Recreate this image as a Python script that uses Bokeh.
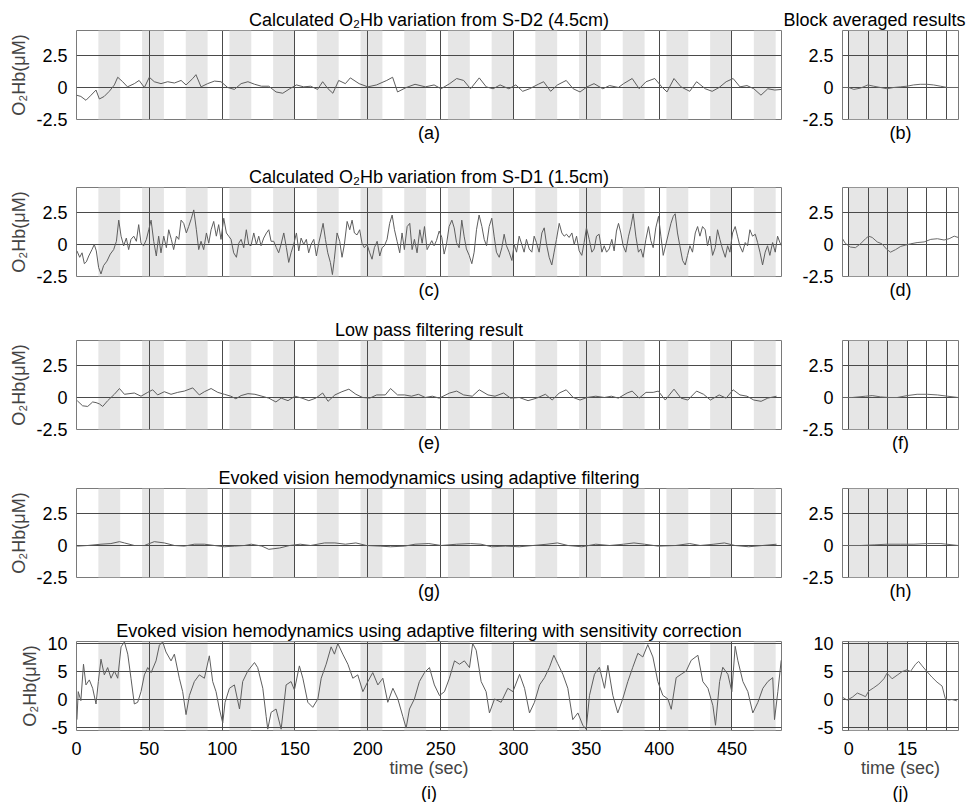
from bokeh.plotting import figure
from bokeh.layouts import column, row
from bokeh.models import Title, BoxAnnotation, Grid, FixedTicker, Range1d
from bokeh.embed import file_html
from bokeh.resources import INLINE

FONT = "Liberation Sans"
FS = "18px"

# ---------------- stimulation design ----------------
stim_onsets = [15, 45, 75, 105, 135, 165, 195, 225, 255, 285, 315, 345, 375, 405, 435, 465]
stim_len = 15
block_stim = [0, 15]

time_ticks = [0, 50, 100, 150, 200, 250, 300, 350, 400, 450]
time_grid = [50, 100, 150, 200, 250, 300, 350, 400, 450]
block_ticks = [0, 15]
block_grid = [0, 5, 10, 15, 20, 25]
small_ticks = [-2.5, 0, 2.5]
small_grid = [0, 2.5]
big_ticks = [-5, 0, 5, 10]
big_grid = [-5, 0, 5, 10]

titles = [
    "Calculated O\u2082Hb variation from S-D2 (4.5cm)",
    "Calculated O\u2082Hb variation from S-D1 (1.5cm)",
    "Low pass filtering result",
    "Evoked vision hemodynamics using adaptive filtering",
    "Evoked vision hemodynamics using adaptive filtering with sensitivity correction",
]
block_title = "Block averaged results"
main_labels = ["(a)", "(c)", "(e)", "(g)", "(i)"]
block_labels = ["(b)", "(d)", "(f)", "(h)", "(j)"]

# ---------------- time series (time s, O2Hb uM) ----------------
series_a = [(0, -0.6), (3, -0.7), (6.5, -1.0), (10, -0.6), (13.4, -0.2), (15.7, -0.9), (19, -0.7),
            (22.5, -0.3), (26, 0.2), (28.3, 0.8), (31.7, 0.45), (35, 0.05), (39.7, 0.3), (43, 0.55),
            (46.6, 0), (50, 0.8), (53.4, 0.45), (58, 0.3), (62.6, 0.45), (67.2, 0.35), (71.8, 0.55),
            (75.2, 0.2), (79.8, 0.7), (82, 1.0), (85.5, 0.05), (90, 0.3), (94.7, 0.5), (99.2, 0.45),
            (103.8, 0), (108.4, -0.15), (113, 0.3), (117.7, 0.45), (122.3, 0.25), (127, 0.1),
            (132, 0.1), (137, -0.35), (141.6, -0.45), (146.4, -0.1), (151, 0.2), (156, 0.05),
            (160.7, 0.1), (165.5, -0.15), (169, 0.45), (172.7, -0.1), (176, -0.45), (180, 0.55),
            (184.6, 0.3), (188, 0.75), (194, 0.3), (200, 0.05), (206, 0.2), (213, 0.55), (217, 0.8),
            (220.4, -0.35), (226.4, 0), (232.4, 0.25), (239.5, 0.05), (245.5, 0.2), (250.3, -0.1),
            (256.2, 0.3), (261, 0.7), (265.8, 0.55), (270.5, -0.1), (276.5, 0.75), (281.3, 0.05),
            (286, -0.1), (290.8, 0.2), (296.8, -0.1), (301.6, 0.2), (306.3, -0.3), (311, -0.1),
            (317, 0.25), (320.7, 0.45), (325.5, -0.3), (330.2, 0.2), (336.2, 0.55), (341, -0.1),
            (345.7, -0.35), (350.5, 0.05), (355.3, 0.3), (361.3, -0.1), (366, 0.15), (372, 0),
            (375.6, 0.3), (381.5, 0.7), (386.3, -0.1), (391, 0.45), (397, 0.7), (401.8, 0.05),
            (405.4, -0.35), (410.2, 0.7), (415, 0.05), (421, -0.3), (425.7, 0.45), (431.7, -0.1),
            (436.4, -0.3), (441.2, 0), (446, 0.45), (450.8, 0.7), (455.5, 0.05), (460.3, 0.15),
            (465, -0.1), (469.9, -0.6), (474.6, -0.1), (479.4, -0.2), (484, -0.15)]

series_c = [(0.3, -0.5), (2.2, -1.0), (3.8, -0.65), (5.4, -1.5), (6.8, -1.35), (8.4, -0.9),
            (10.6, -0.4), (12.2, 0), (13.6, -0.5), (15.2, -1.8), (16.8, -2.3), (18.6, -1.65),
            (20.9, -1.3), (23.2, -0.75), (25.5, -0.4), (27.4, 0.25), (29.0, 1.9), (30.6, 0.65),
            (32.4, -0.1), (34.2, 0.5), (35.8, -0.4), (37.4, 0.4), (39.3, 0.65), (41.1, 0.25),
            (42.7, 1.55), (44.3, 0.1), (46.1, -0.1), (48.0, 0.4), (49.6, 1.15), (51.2, 1.9),
            (53.0, 0.25), (54.8, -0.9), (56.4, 0.65), (58.0, -0.65), (59.9, 0.65), (61.7, -0.25),
            (63.3, 1.15), (65.1, 0.4), (66.7, -0.4), (68.6, 0.65), (70.2, 0.4), (71.8, 1.9),
            (73.6, 1.65), (75.4, 0.9), (77.0, 1.4), (78.9, 2.05), (80.5, 2.7), (82.3, 1.15),
            (83.9, -0.4), (85.5, 0.25), (87.3, -0.4), (89.2, 0.9), (90.8, 0.1), (92.4, 1.15),
            (94.2, 1.8), (96.0, 0.65), (97.6, 1.55), (99.2, 0.4), (101.1, 2.05), (102.9, 0.9),
            (104.5, 0.65), (106.1, 0.4), (107.9, -0.65), (109.8, -1.0), (111.4, 0.1), (113.0, 0.4),
            (114.8, -0.25), (116.6, 1.15), (118.2, 0), (119.8, -0.1), (121.7, 0.9), (123.5, 0),
            (125.1, 0.65), (126.7, -0.1), (128.5, 0.5), (130.4, 0.9), (132.0, 1.15), (133.6, 0.25),
            (135.4, 0.25), (137.2, -0.25), (138.8, -0.65), (140.4, 0), (142.3, 0.9), (144.1, -0.25),
            (145.7, -1.4), (147.3, -0.65), (149.1, 0), (151.0, 0.9), (152.6, -0.5), (154.2, 0.5),
            (156.0, 0), (157.8, 0.4), (159.4, -0.65), (161.0, 0), (162.9, 0.4), (164.7, -0.9),
            (166.3, 0.1), (167.9, 0.9), (169.3, 1.65), (170.9, 0.4), (172.5, -0.65), (174.3, -1.4),
            (175.7, -2.35), (177.0, -1.15), (178.9, 0.9), (180.7, 0.25), (182.3, -1.0), (183.9, 0),
            (185.8, 1.8), (187.6, 1.15), (189.2, 1.9), (190.8, 0.9), (192.6, 0.75), (194.4, 1.15),
            (196.0, 0.1), (197.6, -0.25), (199.5, 0), (201.3, -0.65), (202.9, -1.15), (204.5, -0.25),
            (206.4, 0.25), (208.2, -0.9), (209.8, -0.25), (211.4, -0.1), (213.2, 0.4), (215.0, 1.65),
            (216.7, 2.3), (218.3, 1.15), (220.1, 0.25), (221.9, -0.65), (223.5, 0.9), (225.1, -0.4),
            (227.0, 1.4), (228.8, 1.65), (230.4, -0.4), (232.0, 0.4), (233.8, -0.65), (235.7, 1.15),
            (237.3, 0.1), (238.9, 1.4), (240.7, -0.4), (243.9, 0.3), (245.5, -0.1), (247.1, 0.3),
            (249.0, 1.05), (250.8, 0.55), (252.4, -0.75), (254.0, 0), (255.8, 1.4), (257.7, 1.9),
            (259.3, 1.3), (260.9, 0.15), (262.7, -0.25), (264.5, 1.9), (266.1, 0.65), (267.7, -0.35),
            (269.6, -0.85), (271.4, -1.5), (273.0, -0.6), (274.6, 1.15), (276.4, 2.3), (278.3, 1.4),
            (279.9, 0.4), (281.5, -0.1), (283.3, 1.4), (285.1, 2.05), (286.7, 0.65), (288.3, -0.6),
            (290.2, -1.0), (292.0, -0.25), (293.6, 0.8), (295.2, -0.1), (297.0, -0.6), (298.9, -1.25),
            (300.5, 0), (302.1, -0.6), (303.9, 0.65), (305.7, 0), (307.3, -0.6), (308.9, 0.4),
            (310.8, -0.35), (312.6, -0.6), (314.2, 0.65), (315.8, 0.15), (317.6, -0.6), (319.5, 0.9),
            (321.1, 1.3), (322.7, 0), (324.5, -1.0), (326.3, -1.6), (327.9, -0.6), (329.5, 0.4),
            (331.4, 1.65), (333.2, 0.9), (334.8, 0.65), (336.4, 0.8), (338.2, 0.55), (340.1, 0.9),
            (341.7, 0), (343.3, 0.65), (345.1, -0.5), (346.9, -0.85), (348.5, 0.15), (350.1, 1.3),
            (352.0, 0.4), (353.8, -0.6), (355.4, -0.35), (357.0, 0.65), (358.8, 0.8), (360.7, -0.6),
            (362.3, -0.1), (363.9, -0.6), (365.7, -0.35), (367.5, 0.4), (369.1, -0.5), (370.7, 1.05),
            (372.1, 1.65), (373.7, 0.9), (375.3, -0.1), (377.1, -0.6), (379.0, 0.65), (380.6, 1.4),
            (382.2, 2.4), (384.0, 0.65), (385.8, -0.6), (387.4, -0.35), (389.0, -1.0), (390.9, 0.4),
            (392.7, 1.4), (394.3, 0.3), (395.9, -0.25), (397.7, 1.3), (399.6, 2.2), (401.2, 0.65),
            (402.8, -0.85), (404.6, 0), (406.5, 0.9), (408.1, 1.65), (409.7, 2.2), (411.0, 2.4),
            (412.6, 0.9), (414.2, -0.1), (416.1, -1.25), (417.9, -1.6), (419.5, -0.85), (421.1, -0.1),
            (422.9, -0.6), (424.8, 0.9), (426.4, 1.4), (428.0, 0.65), (429.8, 1.4), (431.6, 1.15),
            (433.2, -0.1), (434.8, 0.65), (436.7, -0.85), (438.5, -0.25), (440.1, 1.15), (441.7, 0.4),
            (443.5, -0.35), (445.4, -1.0), (447.0, -0.1), (448.6, -0.6), (450.4, 0.9), (452.2, 1.4),
            (453.8, 0.65), (455.4, -0.1), (457.3, -0.6), (459.1, 0.15), (460.7, -0.1), (462.3, 1.15),
            (464.1, 0.65), (466.0, 0.8), (467.6, 0.15), (469.2, -0.6), (471.0, -1.6), (472.8, -0.6),
            (474.4, -0.1), (476.0, -0.85), (477.9, 0.15), (479.7, -0.6), (481.3, 0.65), (482.9, 0.15),
            (484.0, -0.1)]

series_e = [(0.5, -0.25), (4.2, -0.65), (7.7, -0.7), (11.1, -0.35), (13.4, -0.4), (15.7, -0.5),
            (18, -0.7), (21.4, -0.25), (26, 0.25), (29.5, 0.7), (32.9, 0.25), (39.7, 0.35),
            (44.3, 0.1), (48.9, 0.4), (52.3, 0.6), (55.7, 0.2), (60.3, 0.45), (64.9, 0.25),
            (69.5, 0.4), (74, 0.5), (79.8, 0.75), (84.3, 0.2), (87.8, 0.45), (92.4, 0.7), (97, 0.4),
            (101.5, 0.25), (106, 0.1), (109.4, -0.1), (113, 0.15), (117.7, 0.3), (122.5, 0.25),
            (127.3, 0.1), (132, -0.05), (136.9, -0.35), (140.5, -0.05), (145.2, -0.25), (150, 0.1),
            (154.8, -0.05), (159.5, -0.25), (164.3, -0.05), (169, 0.35), (172.7, -0.3), (177.4, 0.2),
            (182.2, 0.45), (187, 0.65), (191.8, 0.25), (196.5, 0), (201.3, -0.05), (206.1, 0.2),
            (212, 0.2), (215.6, 0.7), (220.4, 0.2), (225.2, 0.2), (230, 0.1), (234.7, 0.25),
            (239.5, 0), (244.3, 0.1), (249, -0.05), (256.2, 0.35), (261, 0.5), (265.8, 0.2),
            (271.7, 0.1), (276.5, 0.6), (282.5, 0.2), (287.3, 0.1), (293.2, 0.35), (298, -0.05),
            (304, 0), (310, -0.25), (315.9, -0.05), (321.9, 0.25), (326.6, -0.2), (331.4, 0.35),
            (336.2, 0.6), (341, 0), (345.7, -0.2), (350.5, 0), (356.5, 0.1), (362.4, 0), (367.2, 0.1),
            (372, -0.05), (378, 0.35), (381.5, 0.5), (386.3, -0.05), (391, 0.4), (395.9, 0.4),
            (399.4, 0.5), (404.2, -0.2), (410.2, 0.65), (415, -0.05), (419.7, -0.2), (425.7, 0.5),
            (430.5, 0.25), (435.2, -0.2), (441.2, 0.2), (446, -0.05), (450.8, 0.6), (455.5, 0.2),
            (460.3, 0.1), (465, -0.2), (470, -0.3), (474.6, -0.05), (480.6, 0.1)]

series_g = [(0.5, -0.05), (7.7, 0), (16.8, 0.1), (23.6, 0.15), (29.5, 0.3), (32.9, 0.2), (39.7, 0),
            (46.6, 0), (53.4, 0.3), (60.3, 0.2), (67.2, 0), (74, -0.05), (80.9, 0.1), (87.8, 0.1),
            (94.7, 0), (101.5, -0.1), (108.4, -0.05), (115.3, 0), (120, 0.1), (127.3, -0.05),
            (132, -0.3), (139.3, -0.2), (146.4, 0), (153.6, 0.1), (160.7, 0), (170.3, 0.2),
            (177.4, 0.2), (184.6, 0.1), (191.8, 0.2), (199, 0), (208.5, -0.05), (215.6, -0.1),
            (225.2, -0.05), (232.4, 0.1), (241.9, 0.15), (250.3, 0), (261, 0.1), (270.5, 0.15),
            (277.7, 0.1), (284.9, -0.1), (294.4, -0.05), (304, -0.1), (313.5, 0), (323, 0.1),
            (330.2, 0.2), (337.4, 0), (346.9, -0.1), (356.5, 0.1), (366, 0), (375.6, 0.1),
            (382.7, 0.2), (389.9, 0.1), (399.4, -0.05), (411.4, 0), (421, 0.15), (428.1, 0),
            (437.6, 0.1), (444.8, 0.2), (452, 0), (461.5, -0.1), (471, 0), (480.6, 0.1)]

series_i = [(0.3, -3.6), (1.2, 1.4), (3, -0.2), (4.8, 6.3), (6.5, 2.6), (8.8, 3.5), (11.1, 2.0),
            (13.4, -0.8), (15, 3.2), (16.8, 7.2), (19.1, 4.4), (21.4, 5.7), (23.7, 3.8), (26, 5.1),
            (28.3, 3.8), (30.6, 9.4), (32.9, 10.3), (35.2, 8.1), (37.4, 3.8), (39.7, -0.8), (42, -0.5),
            (44.3, 1.4), (46.6, 4.4), (48.9, 5.7), (51.2, 4.8), (54.6, 6.9), (56.9, 9.7), (59.2, 10.3),
            (61.4, 8.5), (64.9, 6.9), (67.2, 8.1), (70.6, 3.8), (72.9, 1.4), (75.2, -2.7), (77.5, 0.7),
            (80.9, 3.2), (84.3, 4.4), (87.8, 3.8), (91.2, 7.8), (93.5, 3.2), (95.8, 1.4), (98.1, -1.7),
            (100.4, -4.2), (102, -0.5), (105, 2.0), (108.4, 2.6), (111.9, -1.7), (114.1, 3.2),
            (117.6, 5.1), (122.2, 6.6), (124.4, 5.7), (127.9, 2.0), (130.2, -3.0), (131.3, -5.3),
            (133.6, -2.3), (137, -1.7), (140.5, -5.3), (143.9, 2.6), (147.3, 3.2), (149.6, 1.7),
            (153, 6.0), (155.4, 3.8), (158.8, -0.5), (162.2, -1.4), (165.7, 0.1), (168, 3.8),
            (171.4, 6.3), (174.8, 9.4), (177.1, 8.1), (179.4, 10.0), (182.8, 8.1), (186.3, 6.3),
            (189.7, 3.8), (193.1, 4.4), (196.6, 1.4), (200, 3.2), (203.4, 4.8), (206.9, 2.6),
            (210.3, 3.8), (213.7, -0.5), (217.2, 2.0), (220.6, 0.1), (224, -3.0), (226.3, -5.1),
            (228.6, -1.7), (232, 0.1), (235.4, 3.2), (238.9, 4.8), (242.3, 5.7), (245.7, 2.6),
            (249.2, 0.7), (252.6, 1.4), (256, 3.8), (259.5, 6.9), (262.9, 6.3), (266.3, 6.9),
            (269.8, 5.7), (272, 10.0), (274.4, 8.8), (277.8, 3.2), (281.2, 1.4), (283.5, -2.4),
            (287, 0.1), (291.5, -0.5), (296.1, 2.0), (299.6, 1.4), (304.2, 4.5), (307.6, 2.0),
            (311, -2.4), (314.4, -0.5), (317.9, 2.6), (321.3, 3.9), (324.7, 5.75), (327.7, 7.9),
            (330.4, 6.4), (333.9, 4.5), (337.3, 2.0), (340.7, -3.6), (344.2, -2.4), (347.6, -4.6),
            (349.9, -5.3), (352.2, 0.75), (355.6, 4.5), (359, 5.75), (362.5, 2.0), (364.8, 6.1),
            (368.2, 0.75), (371.6, -2.4), (375, 0.1), (378.5, 3.2), (381.9, 5.75), (385.4, 8.25),
            (388.8, 7.6), (392.2, 9.8), (395.7, 7.6), (399.1, 3.2), (402.5, 0.75), (406, 0.1),
            (408.3, -1.75), (411.7, 3.9), (415.1, 4.5), (418.6, 5.1), (422, 7.0), (426.6, 7.9),
            (430, 3.2), (433.5, 2.0), (436.9, -1.1), (438.7, -4.6), (441.5, 3.2), (443.7, 5.75),
            (447.2, 4.5), (449.9, 1.4), (452.2, 9.5), (454, 7.0), (457.5, 3.2), (460.9, 1.4),
            (464.3, -2.4), (467.8, -0.5), (471.2, 2.0), (474.6, 3.2), (478, 3.9), (479.2, -3.6),
            (481.5, 1.4), (483.8, 7.0)]

# ---------------- block averages (time s, O2Hb uM) ----------------
block_b = [(-1.6, 0), (0, 0), (1.3, -0.15), (3, -0.05), (4.9, 0.2), (6.4, 0.1), (8.1, 0), (9.8, -0.1),
           (11.5, 0), (13.2, 0.05), (14.9, 0.1), (16.6, 0.2), (18.3, 0.25), (20, 0.25), (21.7, 0.2),
           (23.5, 0.1), (25.2, 0), (28, 0)]
block_d = [(-1.6, 0.45), (-0.9, 0.1), (0.4, -0.2), (1.7, -0.25), (3, 0.05), (4.3, 0.45), (5.1, 0.65),
           (6, 0.55), (7.3, 0.2), (8.5, 0.05), (9.8, -0.4), (10.7, -0.6), (12, -0.4), (13.3, -0.15),
           (14.5, -0.05), (15.8, 0.05), (17.5, 0.15), (19.3, 0.2), (21, 0.4), (22.7, 0.45),
           (24.4, 0.35), (25.7, 0.45), (27, 0.65), (28, 0.55)]
block_f = [(-1.6, 0), (0.9, 0), (4.3, 0.1), (6, 0.15), (8.1, 0.05), (10.3, 0), (12.4, 0), (15, 0.15),
           (17.5, 0.25), (20.1, 0.25), (22.7, 0.2), (25.3, 0.1), (28, 0)]
block_h = [(-1.6, 0), (3, 0), (6.5, 0.05), (9.8, 0.1), (13.3, 0.1), (16.7, 0.1), (20.1, 0.15),
           (23.6, 0.15), (28, 0)]
block_j = [(-1.6, 0.4), (-0.4, -0.1), (0.9, 0.4), (2.2, 1.15), (3.4, 0.8), (4.3, 0.5), (5.1, 1.5),
           (6.4, 2.1), (7.7, 2.75), (9, 3.7), (9.8, 4.7), (11.1, 3.7), (12.4, 4.35), (13.7, 5.0),
           (14.9, 5.3), (15.8, 5.0), (17.1, 6.3), (17.9, 6.8), (18.8, 6.0), (20, 5.0), (21.3, 4.0),
           (22.6, 3.1), (23.9, 2.4), (24.7, 0.2), (25.6, -0.1), (26.4, 0), (27.7, -0.25)]

main_series = [series_a, series_c, series_e, series_g, series_i]
block_series = [block_b, block_d, block_f, block_h, block_j]

small_range = (-2.5, 4.45)
big_range = (-5.54, 10.36)
main_xrange = (0, 484)
block_xrange = (-1.6, 28.1)

# layout (top border, bottom border) for each row
row_borders = [(30, 31), (37, 29), (35, 26), (33, 31), (33, 72)]

GRID_COLOR = "#4a4a4a"
BAND_COLOR = "#e6e6e6"


def tick_text(v):
    return ("%g" % v)


def make_fig(fw, xr, yr, top, bottom, left, right, has_xaxis, yticks, ygrid, xticks, xgrid):
    p = figure(frame_width=fw, frame_height=89, x_range=Range1d(*xr), y_range=Range1d(*yr),
               output_backend="svg", toolbar_location=None,
               x_axis_location="below" if has_xaxis else None,
               min_border_left=left, min_border_right=right,
               min_border_top=top, min_border_bottom=bottom,
               background_fill_color="white", border_fill_color="white",
               outline_line_color="#7a7a7a", outline_line_width=1)
    ax = p.yaxis[0]
    ax.ticker = FixedTicker(ticks=yticks)
    ax.major_label_overrides = {v: tick_text(v) for v in yticks}
    ax.axis_line_color = None
    ax.major_tick_line_color = None
    ax.minor_tick_line_color = None
    ax.major_label_text_font = FONT
    ax.major_label_text_font_size = FS
    ax.major_label_text_color = "black"
    ax.major_label_standoff = 3
    p.ygrid.ticker = FixedTicker(ticks=ygrid)
    p.ygrid.grid_line_color = GRID_COLOR
    p.ygrid.grid_line_width = 1
    if has_xaxis:
        xa = p.xaxis[0]
        xa.ticker = FixedTicker(ticks=xticks)
        xa.major_label_overrides = {v: tick_text(v) for v in xticks}
        xa.axis_line_color = None
        xa.major_tick_line_color = None
        xa.minor_tick_line_color = None
        xa.major_label_text_font = FONT
        xa.major_label_text_font_size = FS
        xa.major_label_text_color = "black"
        xa.major_label_standoff = 5
        xa.axis_label = "time (sec)"
        xa.axis_label_text_font = FONT
        xa.axis_label_text_font_size = FS
        xa.axis_label_text_font_style = "normal"
        xa.axis_label_standoff = 0
        p.xgrid.ticker = FixedTicker(ticks=xgrid)
        p.xgrid.grid_line_color = GRID_COLOR
    else:
        p.add_layout(Grid(dimension=0, ticker=FixedTicker(ticks=xgrid),
                          grid_line_color=GRID_COLOR, grid_line_width=1))
    p.title.text_font = FONT
    p.title.text_font_size = FS
    p.title.text_font_style = "normal"
    p.title.text_color = "black"
    p.title.standoff = 2
    return p


def add_label(p, text, offset, standoff):
    p.add_layout(Title(text=text, align="center", offset=offset, text_font=FONT,
                       text_font_size=FS, text_font_style="normal", text_color="black",
                       standoff=standoff), "below")


rows = []
for k in range(5):
    top, bottom = row_borders[k]
    last = (k == 4)
    yr = big_range if last else small_range
    yt = big_ticks if last else small_ticks
    yg = big_grid if last else small_grid
    lab_standoff = 0 if last else 3

    pm = make_fig(705, main_xrange, yr, top, bottom, 76, 1, last, yt, yg, time_ticks, time_grid)
    for s in stim_onsets:
        pm.add_layout(BoxAnnotation(left=s, right=s + stim_len, fill_color=BAND_COLOR,
                                    fill_alpha=1.0, line_alpha=0, level="image"))
    t, v = zip(*main_series[k])
    pm.line(list(t), list(v), line_color="#5e5e5e", line_width=1)
    pm.title.text = titles[k]
    pm.title.align = "center"
    pm.yaxis[0].axis_label = "O\u2082Hb(\u03bcM)"
    pm.yaxis[0].axis_label_text_font = FONT
    pm.yaxis[0].axis_label_text_font_size = FS
    pm.yaxis[0].axis_label_text_font_style = "normal"
    pm.yaxis[0].axis_label_standoff = 4
    add_label(pm, main_labels[k], -6, lab_standoff)

    pb = make_fig(116, block_xrange, yr, top, bottom, 60, 17, last, yt, yg, block_ticks, block_grid)
    pb.add_layout(BoxAnnotation(left=block_stim[0], right=block_stim[1], fill_color=BAND_COLOR,
                                fill_alpha=1.0, line_alpha=0, level="image"))
    tb, vb = zip(*block_series[k])
    pb.line(list(tb), list(vb), line_color="#6a6a6a", line_width=1)
    if k == 0:
        pb.title.text = block_title
        pb.title.align = "left"
        pb.title.offset = -59
    add_label(pb, block_labels[k], 0, lab_standoff)

    rows.append(row(pm, pb))

layout = column(*rows)
open("out.html", "w").write(file_html(layout, INLINE))
